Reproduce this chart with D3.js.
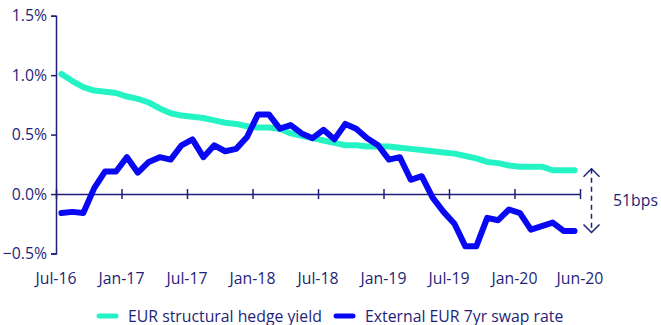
<!DOCTYPE html>
<html>
<head>
<meta charset="utf-8">
<script src="https://cdn.jsdelivr.net/npm/d3@7"></script>
<style>
  html, body { margin: 0; padding: 0; background: #fff; }
  svg { display: block; font-family: "Open Sans", "Noto Sans", sans-serif; }
</style>
</head>
<body>
<svg id="chart" width="661" height="325"></svg>
<script>
// Monthly observations, Jul-16 .. Jun-20
const months = [
  "Jul-16","Aug-16","Sep-16","Oct-16","Nov-16","Dec-16",
  "Jan-17","Feb-17","Mar-17","Apr-17","May-17","Jun-17",
  "Jul-17","Aug-17","Sep-17","Oct-17","Nov-17","Dec-17",
  "Jan-18","Feb-18","Mar-18","Apr-18","May-18","Jun-18",
  "Jul-18","Aug-18","Sep-18","Oct-18","Nov-18","Dec-18",
  "Jan-19","Feb-19","Mar-19","Apr-19","May-19","Jun-19",
  "Jul-19","Aug-19","Sep-19","Oct-19","Nov-19","Dec-19",
  "Jan-20","Feb-20","Mar-20","Apr-20","May-20","Jun-20"
];

// EUR structural hedge yield (%)
const hedgeYield = [
  1.01, 0.95, 0.90, 0.87, 0.86, 0.85, 0.82, 0.80, 0.77, 0.72, 0.68, 0.66,
  0.65, 0.64, 0.62, 0.60, 0.59, 0.57, 0.56, 0.56, 0.55, 0.51, 0.49, 0.47,
  0.45, 0.43, 0.41, 0.41, 0.40, 0.40, 0.40, 0.39, 0.38, 0.37, 0.36, 0.35,
  0.34, 0.32, 0.30, 0.27, 0.26, 0.24, 0.23, 0.23, 0.23, 0.20, 0.20, 0.20
];

// External EUR 7yr swap rate (%)
const swapRate = [
  -0.16, -0.15, -0.16, 0.05, 0.19, 0.19, 0.31, 0.18, 0.27, 0.31, 0.29, 0.41,
  0.46, 0.31, 0.41, 0.36, 0.38, 0.48, 0.67, 0.67, 0.55, 0.58, 0.51, 0.47,
  0.54, 0.46, 0.59, 0.55, 0.47, 0.41, 0.29, 0.31, 0.12, 0.15, -0.03, -0.15,
  -0.25, -0.44, -0.44, -0.20, -0.22, -0.13, -0.16, -0.30, -0.27, -0.24, -0.31, -0.31
];

const yTicks = [-0.5, 0, 0.5, 1.0, 1.5];
// axis labels sit on every sixth month boundary
const xTickIndex = [0, 6, 12, 18, 24, 30, 36, 42, 48];
const xTickLabels = ["Jul-16","Jan-17","Jul-17","Jan-18","Jul-18","Jan-19","Jul-19","Jan-20","Jun-20"];

const seriesNames = ["EUR structural hedge yield", "External EUR 7yr swap rate"];
const spreadLabel = "51bps";

const navy = "#1f1f78";
const teal = "#24f4c4";
const blue = "#0808f2";
const fontSize = "15.8px";

const svg = d3.select("#chart");

const x0 = 56, x1 = 580;
const xEdge = d3.scaleLinear().domain([0, months.length]).range([x0, x1]);
const xPt = d3.scalePoint().domain(months).range([x0, x1]).padding(0.5);
const y = d3.scaleLinear().domain([-0.5, 1.5]).range([253.5, 15.7]);

// y axis
const yAxis = svg.append("g")
  .attr("transform", `translate(${x0},0)`)
  .call(d3.axisLeft(y).tickValues(yTicks).tickSize(5).tickPadding(4)
    .tickFormat(d => d3.format(".1f")(d) + "%"));
yAxis.select(".domain").attr("stroke", navy).attr("stroke-width", 1.5);
yAxis.selectAll(".tick line").attr("stroke", navy).attr("stroke-width", 1.5);
yAxis.selectAll(".tick text").attr("fill", navy).style("font-size", fontSize)
  .style("font-family", "'Open Sans', sans-serif");

// x axis along zero line, ticks crossing it
const xAxis = svg.append("g")
  .attr("transform", `translate(0,${y(0)})`)
  .call(d3.axisBottom(xEdge).tickValues(xTickIndex).tickSizeInner(5).tickSizeOuter(0)
    .tickFormat(""));
xAxis.select(".domain").attr("stroke", navy).attr("stroke-width", 1.5);
xAxis.selectAll(".tick line").attr("stroke", navy).attr("stroke-width", 1.5).attr("y1", -5);

// x labels below the plot
svg.append("g").selectAll("text")
  .data(xTickIndex)
  .join("text")
  .attr("x", d => xEdge(d))
  .attr("y", 283.5)
  .attr("text-anchor", "middle")
  .attr("fill", navy)
  .style("font-size", fontSize)
  .text((d, i) => xTickLabels[i]);

const line = d3.line()
  .x((d, i) => xPt(months[i]))
  .y(d => y(d));

svg.append("path")
  .datum(hedgeYield)
  .attr("fill", "none")
  .attr("stroke", teal)
  .attr("stroke-width", 6)
  .attr("stroke-linejoin", "round")
  .attr("stroke-linecap", "round")
  .attr("d", line);

svg.append("path")
  .datum(swapRate)
  .attr("fill", "none")
  .attr("stroke", blue)
  .attr("stroke-width", 6)
  .attr("stroke-linejoin", "round")
  .attr("stroke-linecap", "round")
  .attr("d", line);

// spread annotation between final values
const lastH = hedgeYield[hedgeYield.length - 1];
const lastS = swapRate[swapRate.length - 1];
const ax = 591.5;
const yTop = y(lastH) - 1.5, yBot = y(lastS) + 1.5;
const ann = svg.append("g").attr("stroke", navy).attr("stroke-width", 1.5).attr("fill", "none");
ann.append("line").attr("x1", ax).attr("x2", ax).attr("y1", yTop).attr("y2", yBot)
  .attr("stroke-dasharray", "5,4");
ann.append("path").attr("d", `M${ax - 8},${yTop + 8} L${ax},${yTop} L${ax + 8},${yTop + 8}`);
ann.append("path").attr("d", `M${ax - 8},${yBot - 8} L${ax},${yBot} L${ax + 8},${yBot - 8}`);
svg.append("text")
  .attr("x", 613)
  .attr("y", (yTop + yBot) / 2 + 5.5)
  .attr("fill", navy)
  .style("font-size", fontSize)
  .text(spreadLabel);

// legend
const legend = svg.append("g");
const legendItems = [
  { name: seriesNames[0], color: teal, x: 97 },
  { name: seriesNames[1], color: blue, x: 334 }
];
legendItems.forEach(it => {
  legend.append("line")
    .attr("x1", it.x + 2).attr("x2", it.x + 19)
    .attr("y1", 316).attr("y2", 316)
    .attr("stroke", it.color).attr("stroke-width", 5).attr("stroke-linecap", "round");
  legend.append("text")
    .attr("x", it.x + 31).attr("y", 321.5)
    .attr("fill", navy)
    .style("font-size", fontSize)
    .text(it.name);
});
</script>
</body>
</html>
